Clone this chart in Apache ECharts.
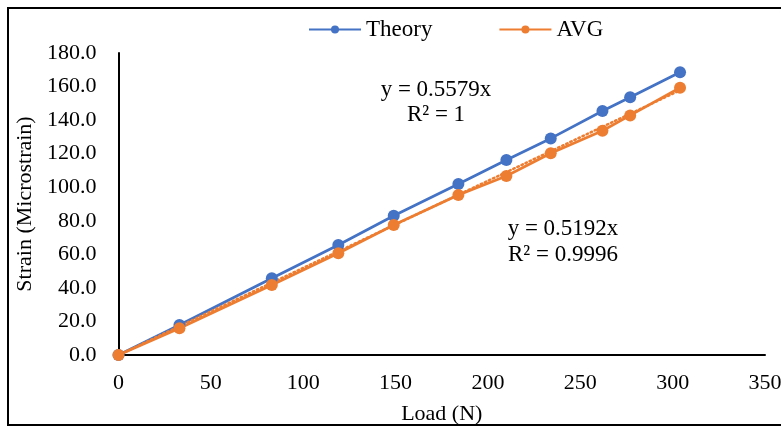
<!DOCTYPE html>
<html>
<head>
<meta charset="utf-8">
<script src="https://cdn.jsdelivr.net/npm/echarts@6/dist/echarts.min.js"></script>
<style>
  html, body { margin: 0; padding: 0; background: #fff; }
  #container { width: 781px; height: 427px; }
</style>
</head>
<body>
<div id="container"></div>
<script>
// load values (N)
var loads = [0, 33, 83, 119, 149, 184, 210, 234, 262, 277, 304];
// strain values (microstrain)
var theory = [0, 17.9, 45.7, 65.6, 83.0, 101.9, 116.2, 129.1, 145.4, 153.6, 168.5];
var avg = [0, 15.9, 41.7, 60.6, 77.5, 95.4, 106.7, 120.2, 133.7, 142.8, 159.3];
// linear trendline end points for AVG
var trendX = [0, 304];
var trendAvg = [0, 157.8];
var eqTheory = ['y = 0.5579x', 'R² = 1'];
var eqAvg = ['y = 0.5192x', 'R² = 0.9996'];

function pairs(xs, ys) {
    var out = [];
    for (var i = 0; i < xs.length; i++) {
        out.push([xs[i], ys[i]]);
    }
    return out;
}

var font = 'Liberation Serif';
var eqFont = '23px "Liberation Serif"';
var blue = '#4472C4';
var orange = '#ED7D31';

var myChart = echarts.init(document.getElementById('container'));
var option = {
    animation: false,
    textStyle: {fontFamily: font, color: '#000'},
    grid: {left: 118.5, right: 16, top: 53, bottom: 72, containLabel: false, outerBoundsMode: 'none'},
    legend: {
        left: 303,
        top: 13,
        itemWidth: 52,
        itemHeight: 10,
        itemGap: 66,
        textStyle: {fontFamily: font, fontSize: 23, color: '#000'},
        data: ['Theory', 'AVG']
    },
    xAxis: {
        type: 'value',
        min: 0,
        max: 350,
        interval: 50,
        name: 'Load (N)',
        nameLocation: 'middle',
        nameGap: 48,
        nameTextStyle: {fontFamily: font, fontSize: 22, color: '#000'},
        axisLine: {lineStyle: {color: '#000', width: 2}},
        axisTick: {show: false},
        splitLine: {show: false},
        axisLabel: {fontFamily: font, fontSize: 22, color: '#000', margin: 17}
    },
    yAxis: {
        type: 'value',
        min: 0,
        max: 180,
        interval: 20,
        name: 'Strain (Microstrain)',
        nameLocation: 'middle',
        nameGap: 82,
        nameTextStyle: {fontFamily: font, fontSize: 22, color: '#000'},
        axisLine: {show: true, lineStyle: {color: '#000', width: 2}},
        axisTick: {show: false},
        splitLine: {show: false},
        axisLabel: {
            fontFamily: font, fontSize: 22, color: '#000', margin: 22,
            formatter: function (v) { return v.toFixed(1); }
        }
    },
    series: [
        {
            name: 'Theory',
            type: 'line',
            data: pairs(loads, theory),
            symbol: 'circle',
            symbolSize: 12,
            itemStyle: {color: blue},
            lineStyle: {color: blue, width: 2.75}
        },
        {
            name: 'AVG',
            type: 'line',
            data: pairs(loads, avg),
            symbol: 'circle',
            symbolSize: 12,
            itemStyle: {color: orange},
            lineStyle: {color: orange, width: 2.75}
        },
        {
            name: 'AVG trend',
            type: 'line',
            data: pairs(trendX, trendAvg),
            symbol: 'none',
            lineStyle: {color: orange, width: 2.5, type: [1.5, 3], cap: 'round'}
        }
    ],
    graphic: [
        {
            type: 'rect',
            shape: {x: 8, y: 8, width: 800, height: 417},
            style: {fill: 'none', stroke: '#000', lineWidth: 2},
            silent: true
        },
        {
            type: 'text', x: 436, y: 90,
            style: {text: eqTheory[0], font: eqFont, fill: '#000', align: 'center', verticalAlign: 'middle'}
        },
        {
            type: 'text', x: 436, y: 115,
            style: {text: eqTheory[1], font: eqFont, fill: '#000', align: 'center', verticalAlign: 'middle'}
        },
        {
            type: 'text', x: 563, y: 229,
            style: {text: eqAvg[0], font: eqFont, fill: '#000', align: 'center', verticalAlign: 'middle'}
        },
        {
            type: 'text', x: 563, y: 255,
            style: {text: eqAvg[1], font: eqFont, fill: '#000', align: 'center', verticalAlign: 'middle'}
        }
    ]
};

myChart.setOption(option);
</script>
</body>
</html>
